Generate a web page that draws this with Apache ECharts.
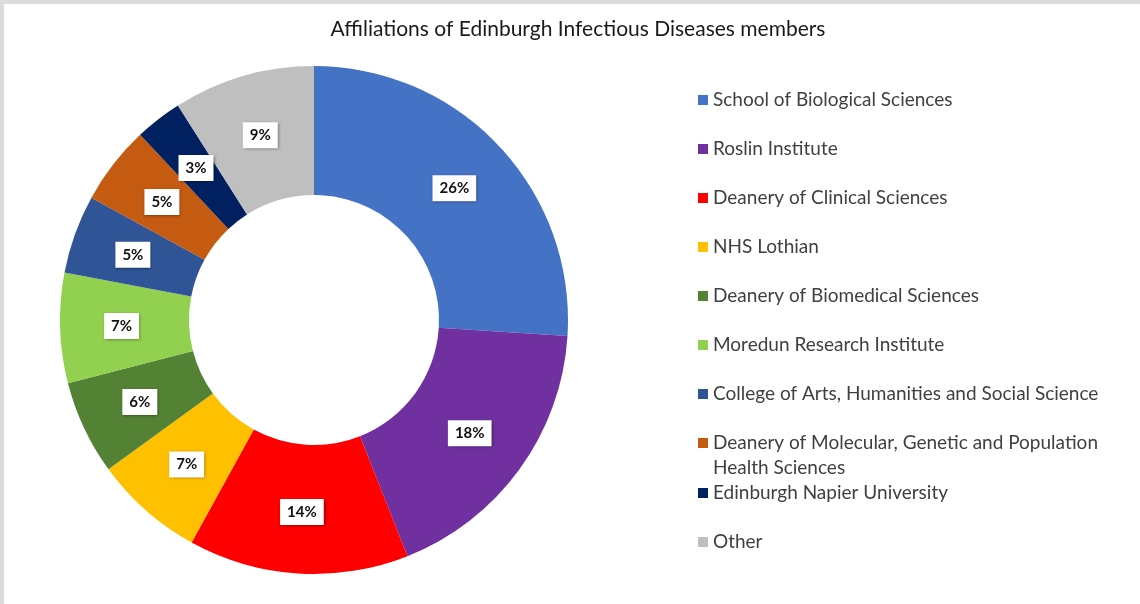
<!DOCTYPE html>
<html>
<head>
<meta charset="utf-8">
<script src="https://cdn.jsdelivr.net/npm/echarts@6/dist/echarts.min.js"></script>
<style>
html,body{margin:0;padding:0;background:#fff;}
#chart{width:1140px;height:604px;}
</style>
</head>
<body>
<div id="chart"></div>
<script>
const titleText = 'Affiliations of Edinburgh Infectious Diseases members';
const categories = [
  'School of Biological Sciences',
  'Roslin Institute',
  'Deanery of Clinical Sciences',
  'NHS Lothian',
  'Deanery of Biomedical Sciences',
  'Moredun Research Institute',
  'College of Arts, Humanities and Social Science',
  'Deanery of Molecular, Genetic and Population Health Sciences',
  'Edinburgh Napier University',
  'Other'
];
const values = [26, 18, 14, 7, 6, 7, 5, 5, 3, 9];
const colors = ['#4472C4', '#7030A0', '#FF0000', '#FFC000', '#548235', '#92D050', '#2F5597', '#C55A11', '#002060', '#BFBFBF'];

const wrapName = 'Deanery of Molecular, Genetic and Population Health Sciences';

const chart = echarts.init(document.getElementById('chart'));
const FS = 19;
const legendText = {
  fontFamily: 'Lato', fontSize: FS, color: '#404040', lineHeight: 25,
  rich: { e: { lineHeight: 25, fontSize: FS }, a: { fontFamily: 'Lato', fontSize: FS, color: '#404040', lineHeight: 25 } }
};
const legendFormatter = function (name) {
  if (name === wrapName) {
    return '{e| }\n{a|Deanery of Molecular, Genetic and Population}\n{a|Health Sciences}';
  }
  return name;
};
const baseLegend = {
  orient: 'vertical', left: 693,
  itemWidth: 10, itemHeight: 10, itemGap: 24,
  icon: 'rect', selectedMode: false,
  textStyle: legendText, formatter: legendFormatter
};
chart.setOption({
  animation: false,
  backgroundColor: '#fff',
  color: colors,
  title: {
    text: titleText,
    left: 573, top: 14, textAlign: 'center',
    textStyle: { fontFamily: 'Lato', fontWeight: 'normal', fontSize: 21, color: '#1a1a1a' }
  },
  legend: [
    Object.assign({}, baseLegend, { data: categories.slice(0, 7), top: 82.5 }),
    Object.assign({}, baseLegend, { data: categories.slice(7, 8), top: 400.5 }),
    Object.assign({}, baseLegend, { data: categories.slice(8), top: 475.5 })
  ],
  graphic: [
    { type: 'rect', silent: true, shape: { x: 2, y: 2, width: 1160, height: 640 }, style: { fill: 'none', stroke: '#dcdcdc', lineWidth: 4 } }
  ],
  series: [{
    type: 'pie',
    center: [314, 320],
    radius: [125, 254],
    startAngle: 90,
    clockwise: true,
    avoidLabelOverlap: false,
    emphasis: { disabled: true },
    itemStyle: { borderWidth: 0 },
    label: {
      show: true, position: 'inside',
      formatter: '{c}%',
      fontFamily: 'Lato', fontWeight: 'bold', fontSize: 15, color: '#111',
      backgroundColor: '#fff', padding: [6, 7, 5, 7],
      shadowBlur: 3, shadowColor: 'rgba(0,0,0,0.45)', shadowOffsetX: 1, shadowOffsetY: 1
    },
    labelLine: { show: false },
    data: categories.map((c, i) => ({ name: c, value: values[i] }))
  }]
});
</script>
</body>
</html>
